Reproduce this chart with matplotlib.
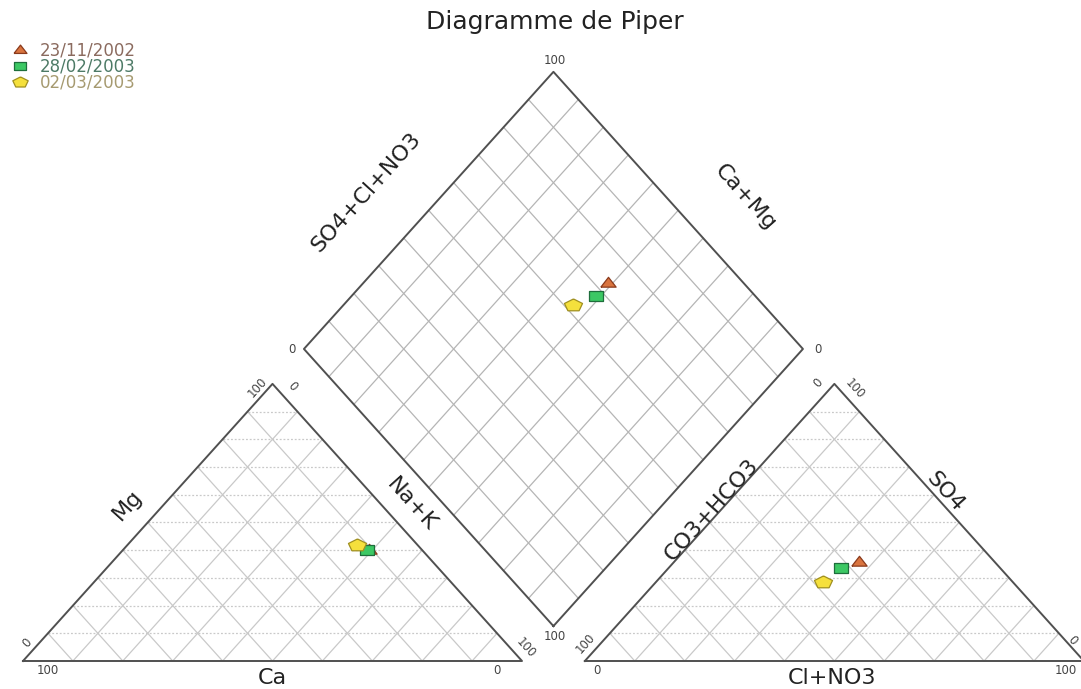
import numpy as np
import matplotlib
matplotlib.use("Agg")
import matplotlib.pyplot as plt

# sample dates
dates = ['23/11/2002', '28/02/2003', '02/03/2003']

# cations, % meq
ca = [10.5, 11.0, 12.0]
mg = [40.5, 40.0, 42.0]
nak = [49.0, 49.0, 46.0]

# anions, % meq
hco3 = [27.0, 32.0, 38.0]
so4 = [36.0, 33.5, 28.5]
clno3 = [37.0, 34.5, 33.5]

markers_fill = ['#D9743F', '#3CC864', '#F5E03C']
markers_edge = ['#8A3A1C', '#1E6E3C', '#A09020']
label_cols = ['#8B6B5F', '#4D7A66', '#A69A70']

g = 0.126          # gap between the two triangles
h = np.sqrt(3) / 2


def cat_xy(ca, mg, na):
    return na / 100 + 0.5 * mg / 100, h * mg / 100


def an_xy(hc, so, cl):
    return 1 + g + cl / 100 + 0.5 * so / 100, h * so / 100


def dia_xy(camg, socl):
    bx, by = 1 + g / 2, g * h
    return bx + 0.5 * socl / 100 - 0.5 * camg / 100, by + h * (socl + camg) / 100


def px(xp, yp):
    # pixel position -> data coords
    return (xp - 23) / 499, (661 - yp) / 320


# wide marker shapes
sq = [(-1.35, -1), (1.35, -1), (1.35, 1), (-1.35, 1), (-1.35, -1)]
tri = [(-1.4, -0.85), (1.4, -0.85), (0, 0.95), (-1.4, -0.85)]
ang = np.pi / 2 + np.arange(6) * 2 * np.pi / 5
pent = list(zip(1.45 * np.cos(ang), np.sin(ang)))
shapes = [tri, sq, pent]
sizes = [11, 10, 13]

fig = plt.figure(figsize=(10.81, 6.89), dpi=100)
ax = fig.add_axes([0, 0, 1, 1])
ax.set_xlim(-23 / 499, (1081 - 23) / 499)
ax.set_ylim(-28 / 320, 661 / 320)
ax.set_aspect('auto')
ax.axis('off')

gc = '#c9c9c9'
gd = '#b5b5b5'
edge = '#505050'

# triangle grids
for off in [0, 1 + g]:
    for k in range(1, 10):
        t = k / 10
        ax.plot([off + 0.5 * t, off + 1 - 0.5 * t], [h * t, h * t], color=gc, lw=0.9, ls=(0, (1.5, 1.5)))
        ax.plot([off + t, off + t + 0.5 * (1 - t)], [0, h * (1 - t)], color=gc, lw=0.9)
        ax.plot([off + 1 - t, off + 0.5 * (1 - t)], [0, h * (1 - t)], color=gc, lw=0.9)
    ax.plot([off, off + 1, off + 0.5, off], [0, 0, h, 0], color=edge, lw=1.4)

# diamond grid
bx, by = 1 + g / 2, g * h
for k in range(1, 10):
    t = k / 10
    x0, y0 = bx + 0.5 * t, by + h * t
    ax.plot([x0, x0 - 0.5], [y0, y0 + h], color=gd, lw=0.9)
    x0, y0 = bx - 0.5 * t, by + h * t
    ax.plot([x0, x0 + 0.5], [y0, y0 + h], color=gd, lw=0.9)
ax.plot([bx, bx + 0.5, bx, bx - 0.5, bx], [by, by + h, by + 2 * h, by + h, by], color=edge, lw=1.4)

# sample points
handles = []
for i in range(3):
    kw = dict(marker=shapes[i], ms=sizes[i], mfc=markers_fill[i], mec=markers_edge[i], mew=0.9, ls='none')
    x, y = cat_xy(ca[i], mg[i], nak[i])
    hd, = ax.plot(x, y, **kw)
    x, y = an_xy(hco3[i], so4[i], clno3[i])
    ax.plot(x, y, **kw)
    x, y = dia_xy(ca[i] + mg[i], so4[i] + clno3[i])
    ax.plot(x, y, **kw)
    handles.append(hd)

ax.legend(handles, dates, loc='upper left', bbox_to_anchor=(-0.002, 0.957), frameon=False,
          fontsize=12, labelcolor=label_cols, labelspacing=-0.1, handletextpad=0.6,
          handlelength=1.2, borderpad=0.2, markerscale=0.85)

# axis titles
tk = dict(fontsize=16, color='#222222', ha='center', va='center', rotation_mode='anchor')
for s, xp, yp, r in [('Mg', 128, 505, 48), ('Na+K', 412, 505, -48), ('Ca', 272, 678, 0),
                     ('CO3+HCO3', 712, 510, 48), ('SO4', 945, 492, -48), ('Cl+NO3', 832, 678, 0),
                     ('SO4+Cl+NO3', 366, 192, 48), ('Ca+Mg', 745, 197, -48)]:
    x, y = px(xp, yp)
    ax.text(x, y, s, rotation=r, **tk)

# corner numbers
nk = dict(fontsize=8.5, color='#444444', ha='center', va='center', rotation_mode='anchor')
for s, xp, yp, r in [('100', 48, 671, 0), ('0', 497, 671, 0), ('0', 27, 643, 48),
                     ('100', 258, 387, 48), ('0', 292, 386, -48), ('100', 526, 648, -48),
                     ('0', 597, 671, 0), ('100', 1066, 671, 0), ('100', 586, 643, 48),
                     ('0', 818, 383, 48), ('100', 855, 389, -48), ('0', 1072, 640, -48),
                     ('100', 555, 61, 0), ('0', 292, 350, 0), ('0', 818, 350, 0),
                     ('100', 555, 637, 0)]:
    x, y = px(xp, yp)
    ax.text(x, y, s, rotation=r, **nk)

fig.text(0.513, 1 - 22 / 689, 'Diagramme de Piper', fontsize=18, color='#222222', ha='center', va='center')

fig.savefig('out.png', dpi=100)
